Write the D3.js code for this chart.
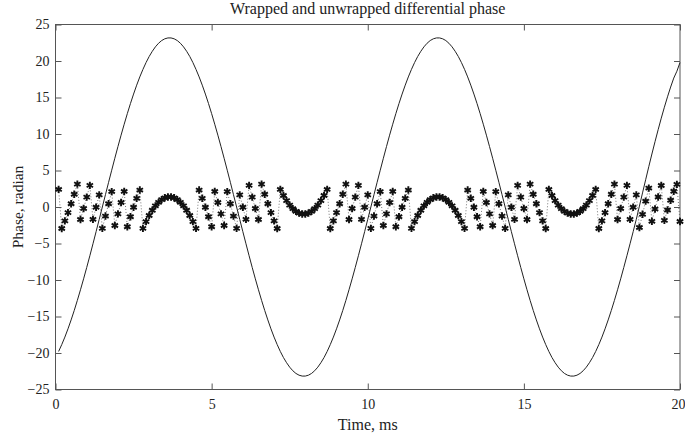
<!DOCTYPE html>
<html>
<head>
<meta charset="utf-8">
<script src="https://cdn.jsdelivr.net/npm/d3@7"></script>
<style>
  body { margin: 0; background: #fff; }
  text { font-family: "Liberation Serif", "DejaVu Serif", serif; fill: #222; }
</style>
</head>
<body>
<div id="chart"></div>
<script>
// samples every 0.1 ms, from 0.1 to 20 ms
const timeMs = d3.range(1, 201).map(i => +(i / 10).toFixed(1))

// unwrapped differential phase, radian
const unwrapped = [
  -19.79, -18.85, -17.82, -16.69, -15.47, -14.17, -12.79, -11.34, -9.84, -8.28, -6.68, -5.04, -3.38, -1.69,
  0, 1.69, 3.38, 5.04, 6.68, 8.28, 9.84, 11.34, 12.79, 14.17,
  15.47, 16.69, 17.82, 18.85, 19.79, 20.62, 21.33, 21.94, 22.43, 22.80,
  23.04, 23.16, 23.16, 23.04, 22.80, 22.43, 21.94, 21.33, 20.62, 19.79,
  18.85, 17.82, 16.69, 15.47, 14.17, 12.79, 11.34, 9.84, 8.28, 6.68,
  5.04, 3.38, 1.69, 0, -1.69, -3.38, -5.04, -6.68, -8.28, -9.84,
  -11.34, -12.79, -14.17, -15.47, -16.69, -17.82, -18.85, -19.79, -20.62, -21.33,
  -21.94, -22.43, -22.80, -23.04, -23.16, -23.16, -23.04, -22.80, -22.43, -21.94,
  -21.33, -20.62, -19.79, -18.85, -17.82, -16.69, -15.47, -14.17, -12.79, -11.34,
  -9.84, -8.28, -6.68, -5.04, -3.38, -1.69,
  0, 1.69, 3.38, 5.04, 6.68, 8.28, 9.84, 11.34, 12.79, 14.17,
  15.47, 16.69, 17.82, 18.85, 19.79, 20.62, 21.33, 21.94, 22.43, 22.80,
  23.04, 23.16, 23.16, 23.04, 22.80, 22.43, 21.94, 21.33, 20.62, 19.79,
  18.85, 17.82, 16.69, 15.47, 14.17, 12.79, 11.34, 9.84, 8.28, 6.68,
  5.04, 3.38, 1.69, 0, -1.69, -3.38, -5.04, -6.68, -8.28, -9.84,
  -11.34, -12.79, -14.17, -15.47, -16.69, -17.82, -18.85, -19.79, -20.62, -21.33,
  -21.94, -22.43, -22.80, -23.04, -23.16, -23.16, -23.04, -22.80, -22.43, -21.94,
  -21.33, -20.62, -19.79, -18.85, -17.82, -16.69, -15.47, -14.17, -12.79, -11.34,
  -9.84, -8.28, -6.68, -5.04, -3.38, -1.69,
  0.12, 1.93, 3.73, 5.52, 7.26, 8.95, 10.59, 12.17, 13.67, 15.09, 16.43, 17.66, 18.60, 19.79
]

// wrapped differential phase, radian
const wrapped = [
  2.41, -2.94, -1.90, -0.77, 0.45, 1.75, 3.13, -1.71, -0.21, 1.35, 2.96, -1.69, -0.03, 1.66,
  -2.93, -1.24, 0.44, 2.11, -2.54, -0.94, 0.62, 2.13, -2.71, -1.33,
  -0.03, 1.19, 2.32, -2.93, -2.00, -1.17, -0.45, 0.16, 0.64, 1.01,
  1.26, 1.38, 1.38, 1.26, 1.01, 0.64, 0.16, -0.45, -1.17, -2.00,
  -2.93, 2.32, 1.19, -0.03, -1.33, -2.71, 2.13, 0.62, -0.94, -2.54,
  2.11, 0.44, -1.24, -2.93, 1.66, -0.03, -1.69, 2.96, 1.35, -0.21,
  -1.71, 3.13, 1.75, 0.45, -0.77, -1.90, -2.94, 2.41, 1.58, 0.87,
  0.26, -0.23, -0.60, -0.84, -0.96, -0.96, -0.84, -0.60, -0.23, 0.26,
  0.87, 1.58, 2.41, -2.94, -1.90, -0.77, 0.45, 1.75, 3.13, -1.71,
  -0.21, 1.35, 2.96, -1.69, -0.03, 1.66,
  -2.93, -1.24, 0.44, 2.11, -2.54, -0.94, 0.62, 2.13, -2.71, -1.33,
  -0.03, 1.19, 2.32, -2.93, -2.00, -1.17, -0.45, 0.16, 0.64, 1.01,
  1.26, 1.38, 1.38, 1.26, 1.01, 0.64, 0.16, -0.45, -1.17, -2.00,
  -2.93, 2.32, 1.19, -0.03, -1.33, -2.71, 2.13, 0.62, -0.94, -2.54,
  2.11, 0.44, -1.24, -2.93, 1.66, -0.03, -1.69, 2.96, 1.35, -0.21,
  -1.71, 3.13, 1.75, 0.45, -0.77, -1.90, -2.94, 2.41, 1.58, 0.87,
  0.26, -0.23, -0.60, -0.84, -0.96, -0.96, -0.84, -0.60, -0.23, 0.26,
  0.87, 1.58, 2.41, -2.94, -1.90, -0.77, 0.45, 1.75, 3.13, -1.71,
  -0.21, 1.35, 2.96, -1.69, -0.03, 1.66,
  -2.81, -1.00, 0.80, 2.59, -1.96, -0.27, 1.37, 2.95, -1.83, -0.41, 0.93, 2.16, 3.10, -1.99
]

const xTicks = [0, 5, 10, 15, 20]
const yTicks = [-25, -20, -15, -10, -5, 0, 5, 10, 15, 20, 25]

const width = 685, height = 438
const margin = {top: 24.5, right: 5, bottom: 48.5, left: 55.5}

const svg = d3.select('#chart')
  .append('svg')
  .attr('width', width)
  .attr('height', height)

const x = d3.scaleLinear().domain([0, 20]).range([margin.left, width - margin.right])
const y = d3.scaleLinear().domain([-25, 25]).range([height - margin.bottom, margin.top])

const data = timeMs.map((t, i) => ({t, u: unwrapped[i], w: wrapped[i]}))

// axes, ticks pointing inwards on all four sides
const axisColor = '#555'
const styleAxis = g => {
  g.select('.domain').remove()
  g.selectAll('line').attr('stroke', axisColor)
  g.selectAll('text').style('font-size', '14px').attr('fill', '#222')
}

svg.append('g')
  .attr('transform', `translate(${margin.left},0)`)
  .call(d3.axisLeft(y).tickValues(yTicks).tickSize(-6).tickPadding(6))
  .call(styleAxis)

svg.append('g')
  .attr('transform', `translate(${width - margin.right},0)`)
  .call(d3.axisRight(y).tickValues(yTicks).tickSize(-6).tickFormat(''))
  .call(styleAxis)

const bottomAxis = svg.append('g')
  .attr('transform', `translate(0,${height - margin.bottom})`)
  .call(d3.axisBottom(x).tickValues(xTicks).tickSize(-6).tickPadding(10))
  .call(styleAxis)
// last label sits on the window edge, nudge it in a little
bottomAxis.selectAll('text').filter(d => d === 20).attr('dx', '-2')

svg.append('g')
  .attr('transform', `translate(0,${margin.top})`)
  .call(d3.axisTop(x).tickValues(xTicks).tickSize(-6).tickFormat(''))
  .call(styleAxis)

svg.append('rect')
  .attr('x', margin.left)
  .attr('y', margin.top)
  .attr('width', width - margin.right - margin.left)
  .attr('height', height - margin.bottom - margin.top)
  .attr('fill', 'none')
  .attr('stroke', axisColor)
  .attr('stroke-width', 1)

// wrapped: dotted line + asterisks
svg.append('path')
  .datum(data)
  .attr('fill', 'none')
  .attr('stroke', '#555')
  .attr('stroke-width', 0.8)
  .attr('stroke-dasharray', '1,2')
  .attr('d', d3.line().x(d => x(d.t)).y(d => y(d.w)))

const star = d3.symbol().type(d3.symbolAsterisk).size(38)
svg.append('g')
  .selectAll('path')
  .data(data)
  .join('path')
  .attr('transform', d => `translate(${x(d.t)},${y(d.w)})`)
  .attr('d', star)
  .attr('fill', 'none')
  .attr('stroke', '#111')
  .attr('stroke-width', 1.9)

// unwrapped: solid line
svg.append('path')
  .datum(data)
  .attr('fill', 'none')
  .attr('stroke', '#222')
  .attr('stroke-width', 1)
  .attr('d', d3.line().x(d => x(d.t)).y(d => y(d.u)))

// labels
const midX = (margin.left + width - margin.right) / 2
svg.append('text')
  .attr('x', midX)
  .attr('y', 14)
  .attr('text-anchor', 'middle')
  .style('font-size', '16px')
  .text('Wrapped and unwrapped differential phase')

svg.append('text')
  .attr('x', midX)
  .attr('y', 430)
  .attr('text-anchor', 'middle')
  .style('font-size', '16px')
  .text('Time, ms')

svg.append('text')
  .attr('transform', `translate(23,${(margin.top + height - margin.bottom) / 2}) rotate(-90)`)
  .attr('text-anchor', 'middle')
  .style('font-size', '15.5px')
  .text('Phase, radian')
</script>
</body>
</html>
